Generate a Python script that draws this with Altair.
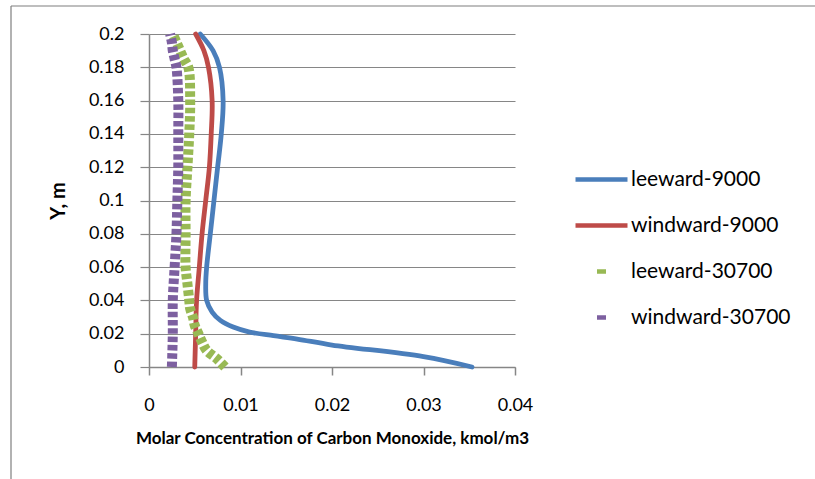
import altair as alt
import pandas as pd

# ---------------- data ----------------
series_names = ["leeward-9000", "windward-9000", "leeward-30700", "windward-30700"]
series_colors = ["#4A7EBB", "#BE4B48", "#98B954", "#7D60A0"]

lee9000_y = [0, 0.0062, 0.0132, 0.0168, 0.0188, 0.021, 0.024, 0.028, 0.033, 0.04,
             0.05, 0.06, 0.08, 0.10, 0.12, 0.14, 0.16, 0.18, 0.19, 0.20]
lee9000_x = [0.0353, 0.0300, 0.0200, 0.0162, 0.0136, 0.0110, 0.0092, 0.0078, 0.0069, 0.0063,
             0.0062, 0.0063, 0.0067, 0.0071, 0.0075, 0.0079, 0.0081, 0.0077, 0.0070, 0.0056]

wind9000_y = [0, 0.02, 0.04, 0.06, 0.08, 0.10, 0.12, 0.14, 0.16, 0.18, 0.19, 0.20]
wind9000_x = [0.0050, 0.0051, 0.0052, 0.0055, 0.0058, 0.0062, 0.0066, 0.0068, 0.0069, 0.0065,
              0.0060, 0.0051]

lee30700_y = [0, 0.005, 0.01, 0.015, 0.02, 0.025, 0.03, 0.035, 0.04, 0.05, 0.06, 0.08,
              0.10, 0.12, 0.14, 0.16, 0.18, 0.185, 0.19, 0.195, 0.20]
lee30700_x = [0.0083, 0.0074, 0.0063, 0.0058, 0.0054, 0.0050, 0.0048, 0.0045, 0.0044, 0.0042,
              0.0040, 0.0040, 0.0040, 0.0042, 0.0044, 0.0045, 0.0043, 0.0038, 0.0034, 0.0030,
              0.0026]

wind30700_y = [0, 0.02, 0.04, 0.06, 0.08, 0.10, 0.12, 0.14, 0.16, 0.18, 0.185, 0.19, 0.195, 0.20]
wind30700_x = [0.0025, 0.0026, 0.0026, 0.0028, 0.0030, 0.0031, 0.0032, 0.0032, 0.0032, 0.0030,
               0.0028, 0.0026, 0.0025, 0.0023]

x_ticks = [0, 0.01, 0.02, 0.03, 0.04]
y_ticks = [0, 0.02, 0.04, 0.06, 0.08, 0.10, 0.12, 0.14, 0.16, 0.18, 0.20]

x_title = "Molar Concentration of Carbon Monoxide, kmol/m3"
y_title = "Y, m"

# ---------------- table ----------------
rows = []
for name, ys, xs in [
    (series_names[0], lee9000_y, lee9000_x),
    (series_names[1], wind9000_y, wind9000_x),
    (series_names[2], lee30700_y, lee30700_x),
    (series_names[3], wind30700_y, wind30700_x),
]:
    for i, (yv, xv) in enumerate(zip(ys, xs)):
        rows.append({"series": name, "y": yv, "x": xv, "i": i})
df = pd.DataFrame(rows)

FONT = "Lato"
GRID = "#868686"

x_enc = alt.X(
    "x:Q",
    scale=alt.Scale(domain=[0, 0.04], nice=False, zero=False),
    axis=alt.Axis(
        values=x_ticks, format="~g", grid=False, title=x_title,
        domainColor=GRID, domainWidth=1.5, tickColor=GRID, tickWidth=1.5, tickSize=8,
        labelFont=FONT, labelFontSize=18, labelColor="#000000", labelPadding=30,
        labelBaseline="middle", labelFlush=False,
        titleFont=FONT, titleFontSize=17, titleFontWeight="bold", titleColor="#000000",
        titleY=71, titleBaseline="middle",
    ),
)
y_enc = alt.Y(
    "y:Q",
    scale=alt.Scale(domain=[0, 0.2], nice=False, zero=False),
    axis=alt.Axis(
        values=y_ticks, format="~g", grid=True, gridColor=GRID, gridWidth=1.2,
        title=y_title,
        domainColor=GRID, domainWidth=1.5, tickColor=GRID, tickWidth=1.2, tickSize=9,
        labelFont=FONT, labelFontSize=18, labelColor="#000000", labelPadding=16,
        labelFlush=False,
        titleFont=FONT, titleFontSize=20, titleFontWeight="bold", titleColor="#000000",
        titleX=-91, titleY=166.5, titleBaseline="middle", titleAngle=270,
    ),
)
color_scale = alt.Scale(domain=series_names, range=series_colors)
legend = alt.Legend(
    title=None, orient="none", legendX=424, legendY=117,
    symbolType="stroke", symbolSize=2704, symbolStrokeWidth=4.5,
    labelFont=FONT, labelFontSize=21, labelColor="#000000", labelOffset=1,
    rowPadding=7,
)

base = alt.Chart(df).encode(
    x=x_enc, y=y_enc,
    color=alt.Color("series:N", scale=color_scale, legend=legend),
    order=alt.Order("i:Q"),
)

layers = []
for k, name in enumerate(series_names):
    sub = base.transform_filter(alt.datum.series == name)
    if k < 2:
        layers.append(sub.mark_line(strokeWidth=4.8, interpolate="catmull-rom",
                                    strokeCap="round"))
    else:
        layers.append(sub.mark_line(strokeWidth=10, interpolate="catmull-rom",
                                    strokeDash=[5.5, 2.8], strokeCap="butt"))

legend_layer = base.transform_filter("false").mark_line().encode(
    strokeDash=alt.StrokeDash(
        "series:N",
        scale=alt.Scale(domain=series_names,
                        range=[[1, 0], [1, 0], [0, 21.5, 9, 21.5], [0, 21.5, 9, 21.5]]),
        legend=legend,
    )
)

frame_df = pd.DataFrame({"k": [0]})
frame_top = alt.Chart(frame_df).mark_rule(color="#7F7F7F", strokeWidth=1.2).encode(
    x=alt.value(-138), x2=alt.value(700), y=alt.value(-28)
)
frame_left = alt.Chart(frame_df).mark_rule(color="#7F7F7F", strokeWidth=1.2).encode(
    x=alt.value(-138), y=alt.value(-28), y2=alt.value(460)
)

chart = alt.layer(frame_top, frame_left, *layers, legend_layer).properties(
    width=366, height=333,
    autosize=alt.AutoSizeParams(type="none"),
    padding={"left": 149, "top": 34, "right": 300, "bottom": 112},
    background="#FFFFFF",
).configure_view(stroke=None)

chart.save("out.html", embed_options={"renderer": "svg", "actions": False})
